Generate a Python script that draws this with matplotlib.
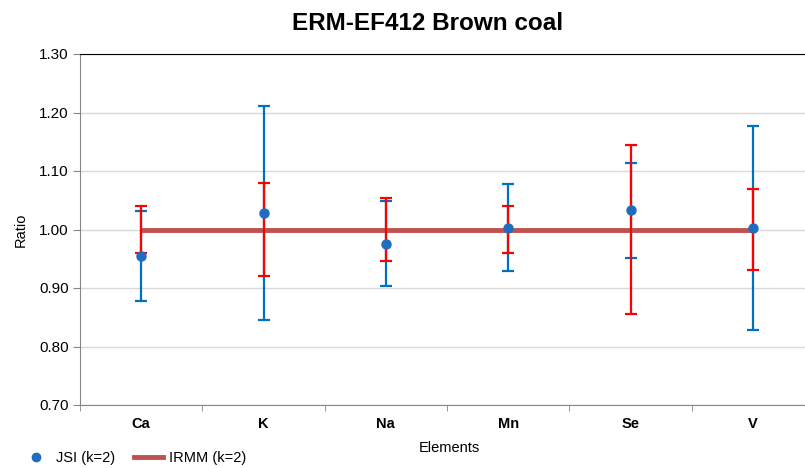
import matplotlib.pyplot as plt
from matplotlib.lines import Line2D

plt.rcParams['font.family'] = ['Liberation Sans', 'DejaVu Sans']

elements = ['Ca', 'K', 'Na', 'Mn', 'Se', 'V']
jsi_ratio = [0.955, 1.028, 0.976, 1.003, 1.033, 1.003]
jsi_unc = [0.077, 0.183, 0.072, 0.074, 0.081, 0.174]
irmm_ratio = [1.00, 1.00, 1.00, 1.00, 1.00, 1.00]
irmm_unc = [0.040, 0.079, 0.054, 0.040, 0.145, 0.069]

blue = '#0070C0'
fig = plt.figure(figsize=(8.05, 4.68), dpi=100)
# plot area runs off the right edge, like the original export
ax = fig.add_axes([80 / 805, 63 / 468, 734 / 805, 351 / 468])

x = list(range(len(elements)))
ax.errorbar(x, jsi_ratio, yerr=jsi_unc, fmt='none', ecolor=blue, elinewidth=1.6,
            capsize=4, capthick=1.6, zorder=3)
ax.plot(x, irmm_ratio, color='#C0504D', lw=3.5, solid_capstyle='butt', zorder=4)
ax.errorbar(x, irmm_ratio, yerr=irmm_unc, fmt='none', ecolor='#FF0000', elinewidth=1.6,
            capsize=4, capthick=1.6, zorder=5)
ax.plot(x, jsi_ratio, 'o', color='#1F6DBF', ms=6.5, zorder=6)

ax.set_xlim(-0.5, len(elements) - 0.5)
ax.set_ylim(0.70, 1.30)
ax.set_yticks([0.70 + 0.1 * i for i in range(7)])
ax.set_yticklabels([f'{0.70 + 0.1 * i:.2f}' for i in range(7)], fontsize=11)
ax.set_xticks(x)
ax.set_xticklabels(elements, fontsize=10.5, fontweight='bold')
ax.set_xticks([i - 0.5 for i in range(len(elements) + 1)], minor=True)
ax.tick_params(axis='x', which='major', length=0, pad=9)
ax.tick_params(axis='x', which='minor', length=4, color='#868686')
ax.tick_params(axis='y', length=5, color='#868686', pad=3)
ax.yaxis.grid(True, color='#D9D9D9', lw=1)
ax.set_axisbelow(True)

for s in ['left', 'bottom']:
    ax.spines[s].set_color('#868686')
ax.spines['top'].set_color('black')
ax.spines['top'].set_linewidth(0.8)
ax.spines['right'].set_visible(False)

ax.set_ylabel('Ratio', fontsize=10.5, labelpad=8)
fig.text(449 / 805, 1 - 448 / 468, 'Elements', fontsize=10.5, ha='center', va='center')
fig.text(428 / 805, 1 - 24 / 468, 'ERM-EF412 Brown coal', fontsize=17.5, fontweight='bold',
         ha='center', va='center')

handles = [Line2D([], [], marker='o', ls='none', color='#1F6DBF', ms=6),
           Line2D([], [], color='#C0504D', lw=3.5)]
fig.legend(handles, ['JSI (k=2)', 'IRMM (k=2)'], ncol=2, loc='lower left',
           bbox_to_anchor=(0.01, -0.022), frameon=False, fontsize=10.5,
           handlelength=2.0, handletextpad=0.4, columnspacing=1.3)

fig.savefig('out.png', dpi=100)
